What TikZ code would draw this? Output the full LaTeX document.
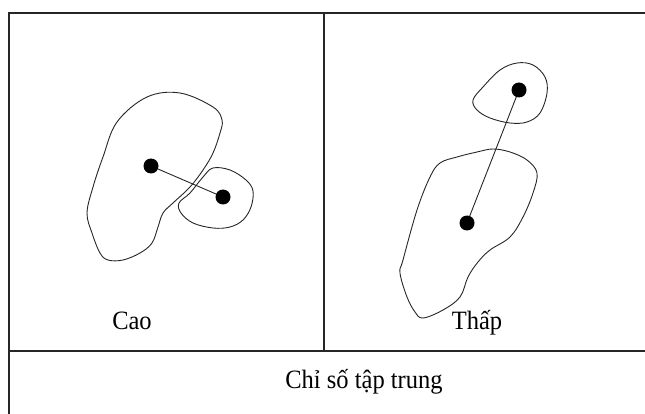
\documentclass[tikz,border=0pt]{standalone}
\usepackage{fontspec}
\setmainfont{Liberation Serif}
\begin{document}
\begin{tikzpicture}[x=1pt,y=-1pt,line cap=round]
		\tikzset{frame/.style={line width=1.2pt,black!85},
			blob/.style={line width=0.9pt,black!85},
			centre/.style={circle,fill=black,inner sep=0pt,minimum size=15pt},
			label/.style={font=\fontsize{24.5}{29}\selectfont,anchor=base,yscale=1.08}}
			\useasboundingbox (0,0) rectangle (645,414);
			% frame
			\draw[frame] (9,414)--(9,13)--(645,13);
			\draw[frame] (9,351)--(645,351);
			\draw[frame] (324,13)--(324,351);
			% Cao
			\draw[blob] plot[smooth cycle,tension=0.6] coordinates {(117,122) (147,97) (180,93) (213,107) (222,120) (220,133) (213,153) (203,170) (190,187) (173,203) (163,213) (158,227) (152,243) (140,253) (123,260) (108,260) (100,253) (92,233) (87,213) (93,187) (103,157)};
			\draw[blob] plot[smooth cycle,tension=0.6] coordinates {(213,168) (230,170) (246,180) (253,191) (251,207) (243,220) (230,227) (213,228) (193,223) (181,213) (179,203) (190,193) (203,177)};
			\node[centre] (c1) at (151,166) {};
			\node[centre] (c2) at (223,197) {};
			\draw[blob] (c1)--(c2);
			\node[label] (cao) at (132,329) {Cao};
			% Thap
			\draw[blob] plot[smooth cycle,tension=0.6] coordinates {(473,100) (483,87) (500,70) (517,63) (533,65) (545,77) (547,93) (540,113) (527,122) (510,123) (490,118) (477,110)};
			\draw[blob] plot[smooth cycle,tension=0.6] coordinates {(493,149) (510,152) (527,160) (537,173) (533,193) (523,217) (510,237) (490,250) (478,262) (468,277) (460,297) (443,310) (423,318) (415,312) (407,297) (400,273) (403,260) (417,210) (430,177) (440,163) (457,157) (477,152)};
			\node[centre] (c3) at (519,90) {};
			\node[centre] (c4) at (467,223) {};
			\draw[blob] (c3)--(c4);
			\node[label] (thap) at (477,329) {Thấp};
			\node[label] (chiso) at (364,388) {Chỉ số tập trung};
\end{tikzpicture}
\end{document}
